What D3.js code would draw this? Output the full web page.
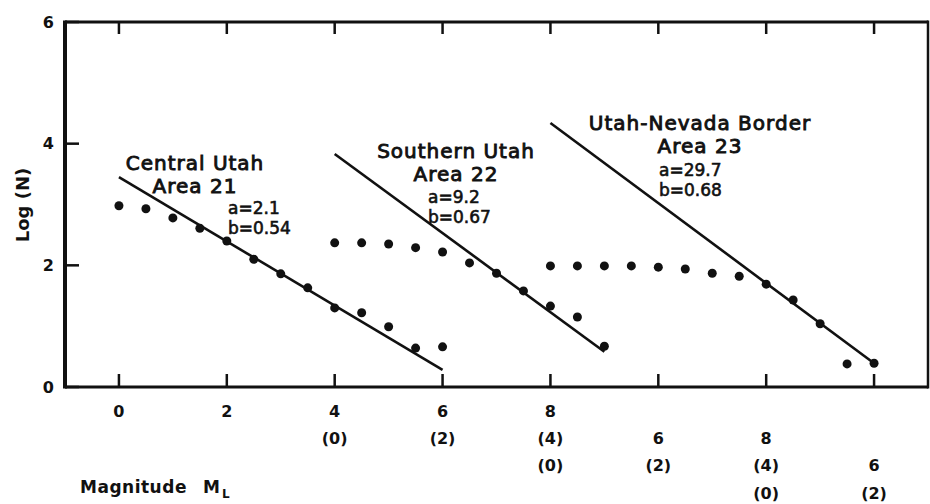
<!DOCTYPE html>
<html>
<head>
<meta charset="utf-8">
<script src="https://cdn.jsdelivr.net/npm/d3@7"></script>
<style>
  body { margin: 0; background: #fff; }
  text { font-family: "DejaVu Sans", sans-serif; fill: #111; }
</style>
</head>
<body>
<div id="chart"></div>
<script>
// plot-axis positions (x) and Log(N) values
const centralX = [0, 0.5, 1, 1.5, 2, 2.5, 3, 3.5, 4, 4.5, 5, 5.5, 6];
const centralY = [2.98, 2.93, 2.78, 2.61, 2.40, 2.10, 1.86, 1.63, 1.30, 1.22, 0.99, 0.64, 0.66];
const southernX = [4, 4.5, 5, 5.5, 6, 6.5, 7, 7.5, 8, 8.5, 9];
const southernY = [2.37, 2.37, 2.35, 2.29, 2.22, 2.04, 1.87, 1.58, 1.33, 1.15, 0.67];
const borderX = [8, 8.5, 9, 9.5, 10, 10.5, 11, 11.5, 12, 12.5, 13, 13.5, 14];
const borderY = [1.99, 1.99, 1.99, 1.99, 1.97, 1.94, 1.87, 1.82, 1.69, 1.43, 1.04, 0.38, 0.39];

// fitted lines, endpoints [x, logN]
const centralFit = [[0, 3.45], [6, 0.28]];
const southernFit = [[4, 3.83], [9, 0.58]];
const borderFit = [[8, 4.34], [14, 0.39]];

// axis ticks and the stacked magnitude labels under them
const xTicks = [0, 2, 4, 6, 8, 10, 12, 14];
const yTicks = [0, 2, 4, 6];
const xLabelRows = [
  ["0", "2", "4", "6", "8", null, null, null],
  [null, null, "(0)", "(2)", "(4)", "6", "8", null],
  [null, null, null, null, "(0)", "(2)", "(4)", "6"],
  [null, null, null, null, null, null, "(0)", "(2)"]
];

const annotations = [
  {lines: ["Central Utah", "Area 21"], x: 195, y: [170, 193]},
  {lines: ["Southern Utah", "Area 22"], x: 456, y: [158, 181]},
  {lines: ["Utah-Nevada Border", "Area 23"], x: 700, y: [130, 153]}
];
const params = [
  {lines: ["a=2.1", "b=0.54"], x: 228, y: [214, 234]},
  {lines: ["a=9.2", "b=0.67"], x: 428, y: [203, 223]},
  {lines: ["a=29.7", "b=0.68"], x: 659, y: [176, 196]}
];

const width = 930, height = 504;
const mLeft = 65, mRight = 928, mTop = 22, mBottom = 387;

const svg = d3.select("#chart").append("svg")
  .attr("width", width)
  .attr("height", height);

const x = d3.scaleLinear().domain([-1, 15]).range([mLeft, mRight]);
const y = d3.scaleLinear().domain([0, 6]).range([mBottom, mTop]);

// frame
svg.append("line").attr("x1", mLeft).attr("x2", mRight).attr("y1", mTop).attr("y2", mTop)
  .attr("stroke", "#111").attr("stroke-width", 3);
svg.append("line").attr("x1", mLeft).attr("x2", mRight).attr("y1", mBottom).attr("y2", mBottom)
  .attr("stroke", "#111").attr("stroke-width", 3);
svg.append("line").attr("x1", mLeft).attr("x2", mLeft).attr("y1", mTop - 1.5).attr("y2", mBottom + 1.5)
  .attr("stroke", "#111").attr("stroke-width", 4);
svg.append("line").attr("x1", mRight).attr("x2", mRight).attr("y1", mTop - 1.5).attr("y2", mBottom + 1.5)
  .attr("stroke", "#111").attr("stroke-width", 2.5);

// inward tick marks
xTicks.forEach(d => {
  svg.append("rect")
    .attr("x", x(d) - 1.25).attr("y", mBottom - 13)
    .attr("width", 2.5).attr("height", 13)
    .attr("fill", "#111");
  svg.append("rect")
    .attr("x", x(d) - 1.25).attr("y", mTop)
    .attr("width", 2.5).attr("height", 12)
    .attr("fill", "#111");
});
yTicks.forEach(d => {
  svg.append("rect")
    .attr("x", mLeft).attr("y", y(d) - 1.25)
    .attr("width", 14).attr("height", 2.5)
    .attr("fill", "#111");
});

// y tick labels
svg.append("g").selectAll("text").data(yTicks).join("text")
  .attr("x", mLeft - 11)
  .attr("y", d => y(d))
  .attr("dy", "0.35em")
  .attr("text-anchor", "end")
  .attr("font-size", 16).attr("font-weight", "bold")
  .text(d => d3.format("d")(d));

// stacked x labels
const rowY = [411, 438, 465, 493];
xLabelRows.forEach((row, r) => {
  row.forEach((lab, i) => {
    if (lab === null) return;
    svg.append("text")
      .attr("x", x(xTicks[i]))
      .attr("y", rowY[r])
      .attr("dy", "0.35em")
      .attr("text-anchor", "middle")
      .attr("font-size", 16)
      .attr("font-weight", "bold")
      .text(lab);
  });
});

// axis titles
svg.append("text")
  .attr("x", 80).attr("y", 493)
  .attr("font-size", 17).attr("font-weight", "bold")
  .attr("letter-spacing", 0.5)
  .text("Magnitude");
const ml = svg.append("text")
  .attr("x", 203).attr("y", 493)
  .attr("font-size", 17).attr("font-weight", "bold");
ml.append("tspan").text("M");
ml.append("tspan").attr("font-size", 12).attr("dx", 2).attr("dy", 5).text("L");

svg.append("text")
  .attr("transform", "translate(29,205) rotate(-90)")
  .attr("text-anchor", "middle")
  .attr("font-size", 18).attr("font-weight", "bold")
  .text("Log (N)");

// fit lines
const line = d3.line().x(d => x(d[0])).y(d => y(d[1]));
[centralFit, southernFit, borderFit].forEach(f => {
  svg.append("path")
    .attr("d", line(f))
    .attr("fill", "none")
    .attr("stroke", "#111")
    .attr("stroke-width", 2.6);
});

// data points
[[centralX, centralY], [southernX, southernY], [borderX, borderY]].forEach(([xs, ys]) => {
  svg.append("g").selectAll("circle")
    .data(xs.map((v, i) => [v, ys[i]]))
    .join("circle")
    .attr("cx", d => x(d[0]))
    .attr("cy", d => y(d[1]))
    .attr("r", 4.5)
    .attr("fill", "#111");
});

// annotations
annotations.forEach(a => {
  a.lines.forEach((t, i) => {
    svg.append("text")
      .attr("x", a.x).attr("y", a.y[i])
      .attr("text-anchor", "middle")
      .attr("font-size", 20)
      .attr("letter-spacing", 1)
      .attr("stroke", "#111").attr("stroke-width", 0.9)
      .text(t);
  });
});
params.forEach(p => {
  p.lines.forEach((t, i) => {
    svg.append("text")
      .attr("x", p.x).attr("y", p.y[i])
      .attr("font-size", 17)
      .attr("stroke", "#111").attr("stroke-width", 0.6)
      .text(t);
  });
});
</script>
</body>
</html>
